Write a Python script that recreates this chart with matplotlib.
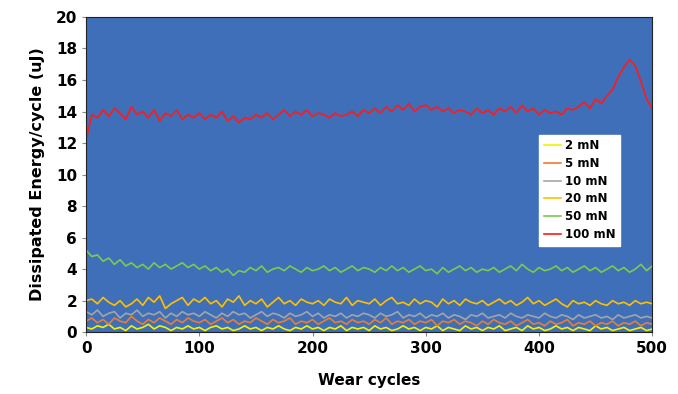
import numpy as np
from matplotlib import pyplot as plt

# values, one every 5 wear cycles
e_100 = [12.2, 13.8, 13.6, 14.1, 13.7, 14.2, 13.9, 13.5, 14.3, 13.8, 14.0, 13.6, 14.1, 13.4, 13.9, 13.7, 14.1, 13.5, 13.8, 13.6,
         13.9, 13.5, 13.8, 13.6, 14.0, 13.4, 13.7, 13.3, 13.6, 13.5, 13.8, 13.6, 13.9, 13.5, 13.8, 14.1, 13.7, 14.0, 13.8, 14.1,
         13.7, 13.9, 13.8, 13.6, 13.9, 13.7, 13.8, 14.0, 13.7, 14.1, 13.9, 14.2, 13.9, 14.3, 14.0, 14.4, 14.1, 14.5, 14.0, 14.3,
         14.4, 14.1, 14.3, 14.0, 14.2, 13.9, 14.1, 14.0, 13.8, 14.2, 13.9, 14.1, 13.8, 14.2, 14.0, 14.3, 13.9, 14.4, 14.0, 14.2,
         13.8, 14.1, 13.9, 14.0, 13.8, 14.2, 14.1, 14.3, 14.6, 14.2, 14.8, 14.5, 15.0, 15.4, 16.2, 16.8, 17.3, 16.9, 15.9, 14.8,
         14.2]
e_50 = [5.2, 4.8, 4.9, 4.5, 4.7, 4.3, 4.6, 4.2, 4.4, 4.1, 4.3, 4.0, 4.4, 4.1, 4.3, 4.0, 4.2, 4.4, 4.1, 4.3,
        4.0, 4.2, 3.9, 4.1, 3.8, 4.0, 3.6, 3.9, 3.8, 4.1, 3.9, 4.2, 3.8, 4.0, 4.1, 3.9, 4.2, 4.0, 3.8, 4.1,
        3.9, 4.0, 4.2, 3.9, 4.1, 3.8, 4.0, 4.2, 3.9, 4.1, 4.0, 3.8, 4.1, 3.9, 4.2, 3.9, 4.1, 3.8, 4.0, 4.2,
        3.9, 4.0, 3.7, 4.1, 3.8, 4.0, 4.2, 3.9, 4.1, 3.8, 4.0, 3.9, 4.1, 3.8, 4.0, 4.2, 3.9, 4.3, 4.0, 3.8,
        4.1, 3.9, 4.0, 4.2, 3.9, 4.1, 3.8, 4.0, 4.2, 3.9, 4.1, 3.8, 4.0, 4.2, 3.9, 4.1, 3.8, 4.0, 4.3, 3.9,
        4.2]
e_20 = [2.0, 2.1, 1.8, 2.2, 1.9, 1.7, 2.0, 1.6, 1.8, 2.1, 1.7, 2.2, 1.9, 2.3, 1.5, 1.8, 2.0, 2.2, 1.7, 2.1,
        1.9, 2.2, 1.8, 2.0, 1.6, 2.1, 1.9, 2.3, 1.7, 2.0, 1.8, 2.1, 1.6, 1.9, 2.2, 1.8, 2.0, 1.7, 2.1, 1.9,
        1.8, 2.0, 1.7, 2.1, 1.9, 1.8, 2.2, 1.7, 2.0, 1.9, 1.8, 2.1, 1.7, 2.0, 2.2, 1.8, 1.9, 1.7, 2.1, 1.8,
        2.0, 1.9, 1.6, 2.1, 1.8, 2.0, 1.7, 2.1, 1.9, 1.8, 2.0, 1.7, 1.9, 2.1, 1.8, 2.0, 1.7, 1.9, 2.2, 1.8,
        2.0, 1.7, 1.9, 2.1, 1.8, 1.6, 2.0, 1.8, 1.9, 1.7, 2.0, 1.8, 1.7, 2.0, 1.8, 1.9, 1.7, 2.0, 1.8, 1.9,
        1.8]
e_10 = [1.3, 1.1, 1.4, 1.0, 1.2, 1.3, 0.9, 1.2, 1.1, 1.4, 1.0, 1.2, 1.1, 1.3, 0.9, 1.2, 1.0, 1.3, 1.1, 1.2,
        1.0, 1.3, 1.1, 0.9, 1.2, 1.0, 1.3, 1.1, 1.2, 0.9, 1.1, 1.3, 1.0, 1.2, 1.1, 0.9, 1.2, 1.0, 1.1, 1.3,
        1.0, 1.2, 0.9, 1.1, 1.0, 1.2, 0.9, 1.1, 1.0, 1.2, 1.1, 0.9, 1.2, 1.0, 1.1, 1.3, 0.9, 1.1, 1.0, 1.2,
        0.9, 1.1, 1.0, 1.2, 0.9, 1.1, 1.0, 0.8, 1.1, 1.0, 1.2, 0.9, 1.0, 1.1, 0.9, 1.2, 1.0, 0.9, 1.1, 1.0,
        0.9, 1.2, 1.0, 0.9, 1.1, 1.0, 0.8, 1.1, 0.9, 1.0, 1.1, 0.9, 1.0, 0.8, 1.1, 0.9, 1.0, 1.1, 0.9, 1.0,
        0.9]
e_5 = [0.7, 0.9, 0.6, 0.8, 0.5, 0.9, 0.7, 0.6, 1.0, 0.7, 0.5, 0.8, 0.6, 0.9, 0.7, 0.5, 0.8, 0.6, 0.9, 0.7,
       0.6, 0.8, 0.5, 0.7, 0.9, 0.6, 0.8, 0.5, 0.7, 0.6, 0.9, 0.7, 0.5, 0.8, 0.6, 0.7, 0.9, 0.5, 0.7, 0.6,
       0.8, 0.5, 0.7, 0.9, 0.6, 0.7, 0.5, 0.8, 0.6, 0.7, 0.5, 0.8, 0.6, 0.9, 0.5, 0.7, 0.6, 0.8, 0.5, 0.7,
       0.6, 0.8, 0.4, 0.7, 0.6, 0.8, 0.5, 0.7, 0.6, 0.4, 0.7, 0.5, 0.8, 0.6, 0.5, 0.7, 0.4, 0.6, 0.8, 0.5,
       0.6, 0.4, 0.7, 0.5, 0.6, 0.8, 0.4, 0.6, 0.5, 0.7, 0.4, 0.6, 0.5, 0.7, 0.4, 0.6, 0.5, 0.7, 0.4, 0.6,
       0.5]
e_2 = [0.3, 0.2, 0.4, 0.3, 0.5, 0.2, 0.3, 0.1, 0.4, 0.2, 0.3, 0.5, 0.2, 0.4, 0.3, 0.1, 0.3, 0.2, 0.4, 0.2,
       0.3, 0.1, 0.3, 0.4, 0.2, 0.3, 0.1, 0.2, 0.4, 0.2, 0.3, 0.1, 0.3, 0.2, 0.4, 0.2, 0.1, 0.3, 0.2, 0.4,
       0.2, 0.3, 0.1, 0.3, 0.2, 0.4, 0.1, 0.3, 0.2, 0.3, 0.1, 0.4, 0.2, 0.3, 0.1, 0.2, 0.4, 0.2, 0.3, 0.1,
       0.3, 0.2, 0.4, 0.1, 0.3, 0.2, 0.1, 0.4, 0.2, 0.3, 0.1, 0.3, 0.2, 0.4, 0.1, 0.2, 0.3, 0.1, 0.4, 0.2,
       0.3, 0.1, 0.2, 0.4, 0.2, 0.3, 0.1, 0.3, 0.2, 0.1, 0.4, 0.2, 0.3, 0.1, 0.2, 0.3, 0.1, 0.2, 0.3, 0.1,
       0.2]

labels = ["2 mN", "5 mN", "10 mN", "20 mN", "50 mN", "100 mN"]
colors = ["#F2F200", "#ED7D31", "#A5A5A5", "#FFC000", "#7CCB4C", "#FF1A1A"]
series = [e_2, e_5, e_10, e_20, e_50, e_100]

fig = plt.figure(figsize=(6.78, 3.94), dpi=100)
ax = fig.add_axes([0.127, 0.157, 0.835, 0.80])
ax.set_facecolor("#3F6FB8")

for vals, lab, col in zip(series, labels, colors):
    x = np.linspace(0, 500, len(vals))
    ax.plot(x, vals, color=col, lw=1.2, label=lab)

ax.set_xlim(0, 500)
ax.set_ylim(0, 20)
ax.set_xticks(range(0, 501, 100))
ax.set_yticks(range(0, 21, 2))
ax.tick_params(labelsize=11, length=3, color="#888888")
for t in ax.get_xticklabels() + ax.get_yticklabels():
    t.set_fontweight("bold")
ax.set_xlabel("Wear cycles", fontsize=11, fontweight="bold", labelpad=12)
ax.set_ylabel("Dissipated Energy/cycle (uJ)", fontsize=11.5, fontweight="bold", labelpad=8)
for s in ax.spines.values():
    s.set_color("#222222")

leg = ax.legend(loc="upper left", bbox_to_anchor=(0.80, 0.627), fancybox=False,
                framealpha=1, edgecolor="white", prop={"weight": "bold", "size": 8.5},
                handlelength=1.5, handletextpad=0.3, labelspacing=0.4, borderaxespad=0)

fig.savefig("out.png", dpi=100)
